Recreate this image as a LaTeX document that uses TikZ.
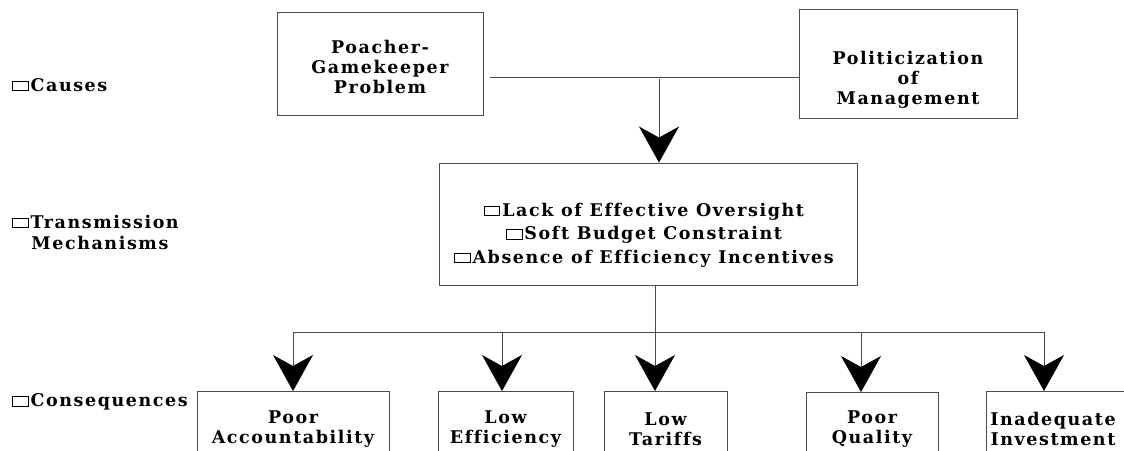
\documentclass[tikz,border=0pt]{standalone}
\usepackage{fontspec}
\setmainfont{DejaVu Serif}[LetterSpace=9, Ligatures=NoCommon]
\usetikzlibrary{arrows.meta}
\newcommand\sqbox{\hbox{\vrule width .9pt\vbox to 10.5pt{\hrule height .9pt width 14.6pt\vfil\hrule height .9pt}\vrule width .9pt}\kern 2pt}
\begin{document}
\begin{tikzpicture}[x=1pt,y=-1pt,
  frame/.style={draw=black!70, line width=.9pt, inner sep=0pt},
  txt/.style={font=\bfseries\fontsize{17.5}{20}\selectfont, align=center, inner sep=0pt},
  lbl/.style={font=\bfseries\fontsize{17.5}{21}\selectfont, align=left, anchor=west, inner sep=0pt},
  conn/.style={draw=black!70, line width=.9pt},
  bigarrow/.style={conn, -{Stealth[length=36pt, width=40pt, inset=11pt, black]}}
]
\useasboundingbox (0,0) rectangle (1124,450);
\clip (0,0) rectangle (1124,450);
% labels
\node[lbl] (causes) at (12,85) {\sqbox Causes};
\node[lbl] (transl) at (12,232) {\sqbox Transmission\\\hspace*{19.2pt}Mechanisms};
\node[lbl] (consl) at (12,402) {\sqbox Consequences};
% top boxes
\node[frame, minimum width=206pt, minimum height=103pt] (poacher) at (380,63.5) {};
\node[txt] (poachert) at (380,67) {Poacher-\\Gamekeeper\\Problem};
\node[frame, minimum width=218pt, minimum height=109pt] (polit) at (908,63.5) {};
\node[txt] (politt) at (908,80) {Politicization\\of\\Management};
% middle box
\node[frame, minimum width=418pt, minimum height=122pt] (trans) at (648,224) {};
\node[txt, font=\bfseries\fontsize{17.5}{23.5}\selectfont] (transt) at (644,235)
  {\sqbox Lack of Effective Oversight\\\sqbox Soft Budget Constraint\\\sqbox Absence of Efficiency Incentives};
% bottom boxes
\node[frame, minimum width=192pt, minimum height=90pt, anchor=north] (acc) at (293,391) {};
\node[txt] (acct) at (293,429) {Poor\\Accountability};
\node[frame, minimum width=135pt, minimum height=90pt, anchor=north] (eff) at (505.5,391) {};
\node[txt] (efft) at (505.5,429) {Low\\Efficiency};
\node[frame, minimum width=123pt, minimum height=90pt, anchor=north] (tar) at (665.5,391) {};
\node[txt] (tart) at (665.5,429) {Low\\Tariffs};
\node[frame, minimum width=132pt, minimum height=90pt, anchor=north] (qual) at (872,392) {};
\node[txt] (qualt) at (872,429) {Poor\\Quality};
\node[frame, minimum width=150pt, minimum height=90pt, anchor=north] (inv) at (1061,391) {};
\node[txt] (invt) at (1053,429) {Inadequate\\Investment};
% top connectors
\coordinate (hl) at (490,77);
\coordinate (j1) at (659,77);
\coordinate (j1b) at (659,79);
\draw[conn] (hl) -- (polit.west |- hl);
\draw[bigarrow] (j1b) -- (trans.north -| j1b);
% bottom connectors
\coordinate (j2) at (655,332);
\coordinate (bl) at (293,332);
\coordinate (br) at (1044,332);
\draw[conn] (trans.south -| j2) -- (j2);
\draw[conn] (bl) -- (br);
\draw[bigarrow] (bl) -- (acc.north -| bl);
\draw[bigarrow] (502,332) coordinate (b2) -- (eff.north -| b2);
\draw[bigarrow] (j2) -- (tar.north -| j2);
\draw[bigarrow] (861,332) coordinate (b4) -- (qual.north -| b4);
\draw[bigarrow] (br) -- (inv.north -| br);
\end{tikzpicture}
\end{document}
